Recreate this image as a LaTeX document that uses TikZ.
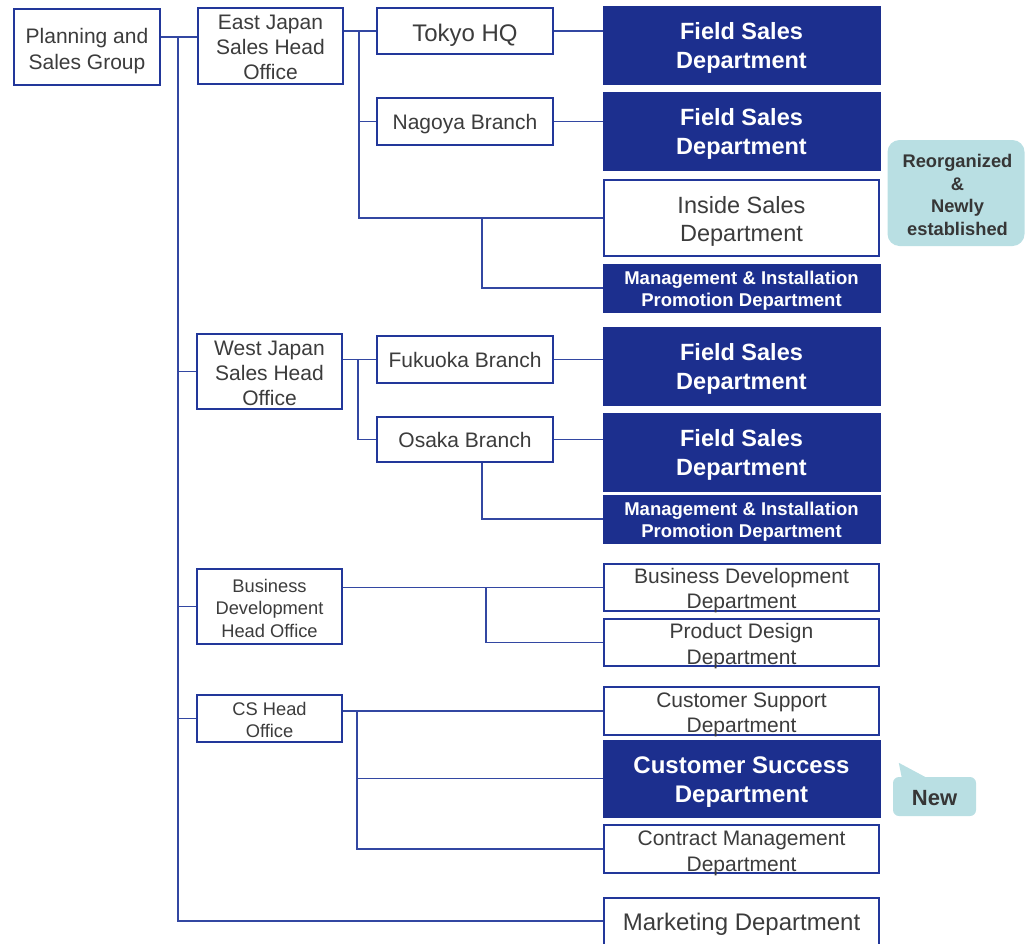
\documentclass[tikz,border=0pt]{standalone}
\usepackage{fontspec}
\setmainfont{Liberation Sans}
\usetikzlibrary{calc}

\definecolor{navy}{HTML}{1C2F8E}
\definecolor{edge}{HTML}{22379A}
\definecolor{wirec}{HTML}{3347A2}
\definecolor{ink}{HTML}{3C3C3C}
\definecolor{tag}{HTML}{B9DFE3}

\tikzset{
  unit/.style={draw=edge, line width=2.2pt, fill=white, inner sep=0pt},
  dept/.style={fill=navy, draw=navy, line width=1pt, inner sep=0pt, minimum width=277pt},
  rdept/.style={unit, minimum width=275pt},
  txt/.style={inner sep=0pt, align=center, text=ink},
  wtxt/.style={inner sep=0pt, align=center, text=white},
  fsA/.style={font=\fontsize{21}{25}\selectfont},
  fsB/.style={font=\fontsize{18.3}{22.5}\selectfont},
  fsC/.style={font=\fontsize{23.5}{28}\selectfont},
  fsBold/.style={font=\bfseries\fontsize{23.5}{28.5}\selectfont},
  fsSmallBold/.style={font=\bfseries\fontsize{18.5}{22}\selectfont},
  wire/.style={draw=wirec, line width=1.6pt},
  tagbox/.style={fill=tag, draw=none, inner sep=0pt},
  tagtxt/.style={txt, text=ink!90!black, font=\bfseries\fontsize{18.3}{22.5}\selectfont},
}

\begin{document}
\begin{tikzpicture}[x=1pt, y=-1pt]
\useasboundingbox (0,0) rectangle (1025,943);

% --- left column: group and head offices
\node[unit, minimum width=146pt, minimum height=76pt] (plan) at (87,47) {};
\node[txt, font=\fontsize{21}{26}\selectfont] (plan-t) at ($(plan)+(0,4)$) {Planning and\\Sales Group};
\node[unit, minimum width=145pt, minimum height=76pt] (ejso) at (270.5,46) {};
\node[txt, fsA] (ejso-t) at ($(ejso)+(0,1)$) {East Japan\\Sales Head\\Office};
\node[unit, minimum width=145pt, minimum height=75pt] (wjso) at (269.5,371.5) {};
\node[txt, fsA] (wjso-t) at ($(wjso)+(0,1.5)$) {West Japan\\Sales Head\\Office};
\node[unit, minimum width=145pt, minimum height=75pt] (bdho) at (269.5,606.5) {};
\node[txt, fsB] (bdho-t) at ($(bdho)+(0,1.5)$) {Business\\Development\\Head Office};
\node[unit, minimum width=145pt, minimum height=47pt] (cs) at (269.5,718.5) {};
\node[txt, fsB] (cs-t) at ($(cs)+(0,1.5)$) {CS Head\\Office};

% --- branches
\node[unit, minimum width=176pt, minimum height=46pt] (tokyo) at (465,31) {};
\node[txt, font=\fontsize{24}{28}\selectfont] (tokyo-t) at ($(tokyo)+(0,4)$) {Tokyo HQ};
\node[unit, minimum width=176pt, minimum height=47pt] (nagoya) at (465,121.5) {};
\node[txt, fsA] (nagoya-t) at ($(nagoya)+(0,3)$) {Nagoya Branch};
\node[unit, minimum width=176pt, minimum height=47pt] (fukuoka) at (465,359.5) {};
\node[txt, fsA] (fukuoka-t) at ($(fukuoka)+(0,0.5)$) {Fukuoka Branch};
\node[unit, minimum width=176pt, minimum height=45pt] (osaka) at (465,439.5) {};
\node[txt, fsA] (osaka-t) at ($(osaka)+(0,0.5)$) {Osaka Branch};

% --- departments
\node[dept, minimum height=78pt] (fs1) at (741.5,45) {};
\node[wtxt, fsBold] (fs1-t) at ($(fs1)+(0,3)$) {Field Sales\\Department};
\node[dept, minimum height=78pt] (fs2) at (741.5,131) {};
\node[wtxt, fsBold] (fs2-t) at ($(fs2)+(0,3)$) {Field Sales\\Department};
\node[rdept, line width=2.6pt, minimum height=76pt] (inside) at (741.5,218) {};
\node[txt, fsC] (inside-t) at ($(inside)+(0,3)$) {Inside Sales\\Department};
\node[dept, minimum height=48pt] (mip1) at (741.5,288) {};
\node[wtxt, fsSmallBold] (mip1-t) at ($(mip1)+(0,3)$) {Management \& Installation\\Promotion Department};
\node[dept, minimum height=78pt] (fs3) at (741.5,366) {};
\node[wtxt, fsBold] (fs3-t) at ($(fs3)+(0,3)$) {Field Sales\\Department};
\node[dept, minimum height=78pt] (fs4) at (741.5,452) {};
\node[wtxt, fsBold] (fs4-t) at ($(fs4)+(0,3)$) {Field Sales\\Department};
\node[dept, minimum height=48pt] (mip2) at (741.5,519) {};
\node[wtxt, fsSmallBold] (mip2-t) at ($(mip2)+(0,3)$) {Management \& Installation\\Promotion Department};
\node[rdept, minimum height=47pt] (bdd) at (741.5,587.5) {};
\node[txt, fsA] (bdd-t) at ($(bdd)+(0,3)$) {Business Development\\Department};
\node[rdept, minimum height=47pt] (pdd) at (741.5,642.5) {};
\node[txt, font=\fontsize{21}{26}\selectfont] (pdd-t) at ($(pdd)+(0,3.5)$) {Product Design\\Department};
\node[rdept, minimum height=48pt] (csd) at (741.5,711) {};
\node[txt, fsA] (csd-t) at ($(csd)+(0,4)$) {Customer Support\\Department};
\node[dept, minimum height=77pt] (csuc) at (741.5,778.5) {};
\node[wtxt, font=\bfseries\fontsize{24}{29}\selectfont] (csuc-t) at ($(csuc)+(0,4)$) {Customer Success\\Department};
\node[rdept, minimum height=48pt] (cmd) at (741.5,849) {};
\node[txt, font=\fontsize{21}{26}\selectfont] (cmd-t) at ($(cmd)+(0,4)$) {Contract Management\\Department};
\node[rdept, minimum height=52pt] (mkt) at (741.5,924) {};
\node[txt, font=\fontsize{24}{28}\selectfont] (mkt-t) at ($(mkt)+(0,0)$) {Marketing Department};

% --- callouts
\node[tagbox, rounded corners=12pt, minimum width=137pt, minimum height=106pt] (reorg) at (956,193) {};
\node[tagtxt] (reorg-t) at ($(reorg)+(1.5,2)$) {Reorganized\\\&\\Newly\\established};
\node[tagbox, rounded corners=6pt, minimum width=83pt, minimum height=39pt] (newtag) at (934.5,796.5) {};
\fill[tag] ($(newtag.north west)+(9,1)$) -- ($(newtag.north west)+(6,-14)$) -- ($(newtag.north west)+(34,1)$) -- cycle;
\node[tagtxt, font=\bfseries\fontsize{22}{26}\selectfont] (newtag-t) at ($(newtag)+(0,2)$) {New};

% --- main trunk from the group
\coordinate (tt) at (178,37);
\coordinate (tb) at (178,921);
\draw[wire] (plan.east |- tt) -- (ejso.west |- tt);
\draw[wire] (tt) -- (tb) -- (tb -| mkt.west);
\draw[wire] (tt |- wjso.west) -- (wjso.west);
\draw[wire] (tt |- bdho.west) -- (bdho.west);
\draw[wire] (tt |- cs.west) -- (cs.west);

% --- East Japan
\coordinate (eb) at (359,0);
\coordinate (ib) at (482,0);
\draw[wire] (ejso.east |- tokyo.west) -- (tokyo.west);
\draw[wire] (eb |- tokyo.west) -- (eb |- inside.west) -- (inside.west);
\draw[wire] (eb |- nagoya.west) -- (nagoya.west);
\draw[wire] (tokyo.east) -- (tokyo.east -| fs1.west);
\draw[wire] (nagoya.east) -- (nagoya.east -| fs2.west);
\draw[wire] (ib |- inside.west) -- (ib |- mip1.west) -- (mip1.west);

% --- West Japan
\coordinate (wb) at (358,0);
\draw[wire] (wjso.east |- fukuoka.west) -- (fukuoka.west);
\draw[wire] (wb |- fukuoka.west) -- (wb |- osaka.west) -- (osaka.west);
\draw[wire] (fukuoka.east) -- (fukuoka.east -| fs3.west);
\draw[wire] (osaka.east) -- (osaka.east -| fs4.west);
\draw[wire] (ib |- osaka.south) -- (ib |- mip2.west) -- (mip2.west);

% --- Business Development
\coordinate (bb) at (486,0);
\draw[wire] (bdho.east |- bdd.west) -- (bdd.west);
\draw[wire] (bb |- bdd.west) -- (bb |- pdd.west) -- (pdd.west);

% --- CS
\coordinate (cb) at (357,0);
\draw[wire] (cs.east |- csd.west) -- (csd.west);
\draw[wire] (cb |- csd.west) -- (cb |- cmd.west) -- (cmd.west);
\draw[wire] (cb |- csuc.west) -- (csuc.west);
\end{tikzpicture}
\end{document}
